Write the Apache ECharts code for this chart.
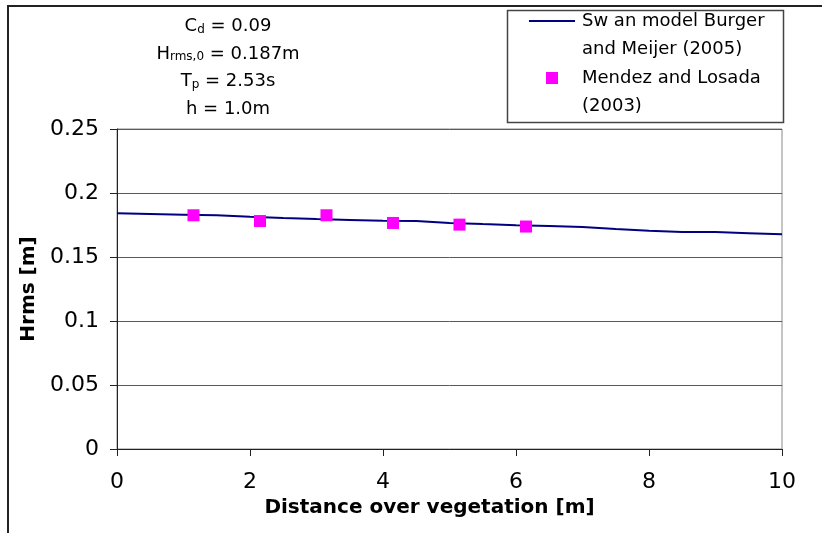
<!DOCTYPE html>
<html>
<head>
<meta charset="utf-8">
<script src="https://cdn.jsdelivr.net/npm/echarts@6/dist/echarts.min.js"></script>
<style>html,body{margin:0;padding:0;background:#fff}#c{width:822px;height:533px}</style>
</head>
<body>
<div id="c"></div>
<script>
// Data
var swanX = [0, 0.5, 1, 1.5, 2, 2.5, 3, 3.5, 4, 4.5, 5, 5.5, 6, 6.5, 7, 7.5, 8, 8.5, 9, 9.5, 10];
var swanY = [0.1841, 0.1836, 0.1831, 0.1826, 0.1814, 0.1805, 0.1797, 0.1790, 0.1783, 0.1781, 0.1766,
             0.1757, 0.1749, 0.1742, 0.1734, 0.1718, 0.1705, 0.1695, 0.1695, 0.1686, 0.1677];
var mendezX = [1.15, 2.15, 3.15, 4.15, 5.15, 6.15];
var mendezY = [0.1826, 0.1781, 0.1826, 0.1766, 0.1753, 0.1738];
var xTicks = [0, 2, 4, 6, 8, 10];
var yTicks = [0, 0.05, 0.1, 0.15, 0.2, 0.25];
var swanName = 'Sw an model Burger\nand Meijer (2005)';
var mendezName = 'Mendez and Losada\n(2003)';

var FONT = 'DejaVu Sans';
var chart = echarts.init(document.getElementById('c'), null, {renderer: 'canvas'});

function pairs(xs, ys) { return xs.map(function (x, i) { return [x, ys[i]]; }); }

var annStyle = {
  fontFamily: FONT, fontSize: 18, fill: '#000', align: 'center', verticalAlign: 'middle',
  rich: {
    m: {fontFamily: FONT, fontSize: 18, lineHeight: 22, verticalAlign: 'bottom'},
    s: {fontFamily: FONT, fontSize: 12, lineHeight: 22, verticalAlign: 'bottom'}
  }
};
function ann(text, y) {
  return {type: 'text', x: 228, y: y, style: echarts.util.extend({text: text}, annStyle), z: 10};
}

chart.setOption({
  animation: false,
  backgroundColor: '#fff',
  grid: {left: 117, top: 129, width: 665, height: 320, show: true, borderColor: '#8a8a8a', borderWidth: 1},
  xAxis: {
    type: 'value', min: 0, max: 10, interval: 2,
    name: 'Distance over vegetation [m]', nameLocation: 'middle', nameGap: 49,
    nameTextStyle: {fontFamily: FONT, fontSize: 20, fontWeight: 'bold', color: '#000', padding: [0, 40, 0, 0]},
    axisLine: {lineStyle: {color: '#222', width: 1}},
    axisTick: {show: true, length: 7, inside: false, lineStyle: {color: '#222'}},
    axisLabel: {fontFamily: FONT, fontSize: 22, color: '#000', margin: 22,
      formatter: function (v) { return xTicks.indexOf(v) >= 0 ? String(v) : ''; }},
    splitLine: {show: false}
  },
  yAxis: {
    type: 'value', min: 0, max: 0.25, interval: 0.05,
    name: 'Hrms [m]', nameLocation: 'middle', nameGap: 77,
    nameTextStyle: {fontFamily: FONT, fontSize: 20, fontWeight: 'bold', color: '#000'},
    axisLine: {show: true, lineStyle: {color: '#222', width: 1}},
    axisTick: {show: true, length: 7, inside: false, lineStyle: {color: '#222'}},
    axisLabel: {fontFamily: FONT, fontSize: 22, color: '#000', margin: 18,
      formatter: function (v) {
        for (var i = 0; i < yTicks.length; i++) { if (Math.abs(yTicks[i] - v) < 1e-9) return String(yTicks[i]); }
        return '';
      }},
    splitLine: {show: true, lineStyle: {color: '#5a5a5a', width: 1}}
  },
  legend: {
    orient: 'vertical', left: 529, top: -21, padding: 0,
    itemWidth: 46, itemHeight: 12, itemGap: -27, selectedMode: false, symbolKeepAspect: true,
    textStyle: {fontFamily: FONT, fontSize: 18, color: '#000', lineHeight: 28, padding: [0, 0, 0, 2]},
    formatter: function (name) { return ' \n' + name; },
    data: [
      {name: swanName, icon: 'path://M0,0L46,0L46,2L0,2Z', itemStyle: {color: '#000080', opacity: 1}},
      {name: mendezName, icon: 'path://M0,0L1,0L1,1L0,1Z', itemStyle: {color: '#ff00ff', opacity: 1}}
    ]
  },
  graphic: [
    {type: 'line', shape: {x1: 8, y1: 6, x2: 822, y2: 6}, style: {stroke: '#222', lineWidth: 2}, silent: true},
    {type: 'line', shape: {x1: 8, y1: 5, x2: 8, y2: 533}, style: {stroke: '#222', lineWidth: 2}, silent: true},
    {type: 'rect', shape: {x: 507.5, y: 10.5, width: 276, height: 112}, style: {fill: null, stroke: '#444', lineWidth: 1.5}, silent: true, z: -1},
    ann('{m|C}{s|d}{m| = 0.09}', 24.5),
    ann('{m|H}{s|rms,0}{m| = 0.187m}', 52),
    ann('{m|T}{s|p}{m| = 2.53s}', 79.5),
    ann('{m|h = 1.0m}', 107)
  ],
  series: [
    {
      name: swanName, type: 'line', data: pairs(swanX, swanY),
      showSymbol: false, symbol: 'none', smooth: false,
      lineStyle: {color: '#000080', width: 2}, itemStyle: {color: '#000080'}, z: 2
    },
    {
      name: mendezName, type: 'scatter', data: pairs(mendezX, mendezY),
      symbol: 'rect', symbolSize: 12,
      itemStyle: {color: '#ff00ff', opacity: 1}, z: 3
    }
  ]
});
</script>
</body>
</html>
